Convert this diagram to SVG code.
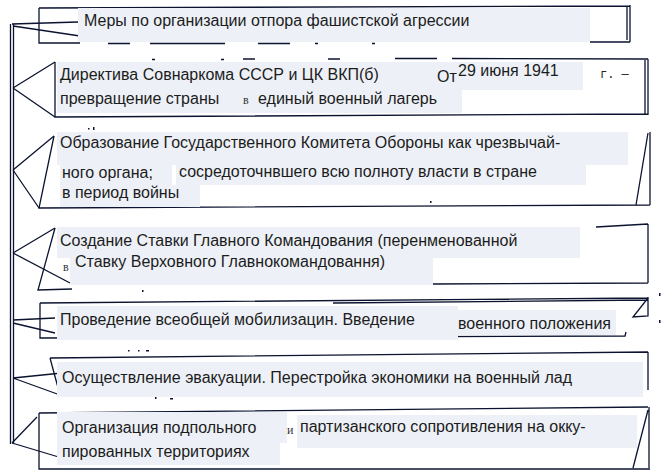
<svg xmlns="http://www.w3.org/2000/svg" width="666" height="475" viewBox="0 0 666 475">
<style>
.ln{stroke:#0b1330;stroke-width:1.3;fill:none}
.bg{fill:#edf1f7}
.t{font-family:"Liberation Sans",Arial,sans-serif;font-size:16px;fill:#1c1c1c}
.g{font-family:"Liberation Serif",serif;font-size:12px;fill:#333}
.m{font-family:"Liberation Mono",monospace;font-size:12px;fill:#222}
.dot{fill:#0b1330}
</style>
<rect width="666" height="475" fill="#fff"/>
<g id="connectors">
<line class="ln" x1="10.5" y1="24" x2="10.5" y2="444"/>
<line class="ln" x1="13.5" y1="24" x2="13.5" y2="444"/>
<path class="ln" d="M12 24 L78 22 M13 26 L80 36"/>
<path class="ln" d="M13 88 L55 62 M13 88 L55 117"/>
<path class="ln" d="M13 170 L54 136 M13 170 L39 208"/>
<path class="ln" d="M13 253 L55 228 M13 253 L70 283"/>
<path class="ln" d="M13 320 L55 318 M13 323 L55 333"/>
<path class="ln" d="M13 378 L62 373 M13 378 L60 395"/>
<path class="ln" d="M12 443 L37 417 M12 443 L62 458"/>
</g>
<g id="node1">
<path class="ln" d="M39 8 L39 43 L80 43 M590 42 L630 42 M39 8 L630 6 M630 5 L630 42 M627 6 L627 40"/>
<path class="ln" d="M108 43.5 L130 43.5 M150 43.5 L225 43.5 M258 43.5 L290 43.5 M315 43.5 L318 43.5 M372 43.5 L375 43.5"/>
<rect class="bg" x="78" y="8" width="512" height="34"/>
<text class="t" x="84" y="26">Меры по организации отпора фашистской агрессии</text>
</g>
<g id="node2">
<path class="ln" d="M55 62 L55 117 L648 114 M395 58.5 L437 58.5 M452 58.5 L648 59 M645 60 L645 114 M648 59 L648 115"/>
<path class="ln" d="M152 59.5 L155 59.5 M221 59.5 L224 59.5 M243 59 L255 59 M328 59 L340 59"/>
<rect class="bg" x="57" y="62" width="526" height="28"/>
<rect class="bg" x="57" y="90" width="405" height="23"/>
<text class="t" x="60" y="80">Директива Совнаркома СССР и ЦК ВКП(б)</text>
<text class="t" x="437" y="82">От</text>
<text class="t" x="458" y="76">29 июня 1941</text>
<text class="m" x="600" y="78">г. —</text>
<text class="t" x="60" y="104">превращение страны</text>
<text class="g" x="243" y="104">в</text>
<text class="t" x="258" y="104">единый военный лагерь</text>
</g>
<g id="node3">
<path class="ln" d="M54 136 L39 208 L650 205 M650 132 L650 205 M648 133 L636 205"/>
<rect class="bg" x="57" y="132" width="571" height="33"/>
<rect class="bg" x="60" y="165" width="112" height="20"/>
<rect class="bg" x="176" y="160" width="410" height="25"/>
<rect class="bg" x="60" y="185" width="140" height="22"/>
<text class="t" x="60" y="148">Образование Государственного Комитета Обороны как чрезвычай-</text>
<text class="t" x="62" y="178">ного органа;</text>
<text class="t" x="179" y="177">сосредоточнвшего всю полноту власти в стране</text>
<text class="t" x="62" y="198">в период войны</text>
<rect class="dot" x="430" y="201" width="1.5" height="2"/>
<rect class="dot" x="88" y="128" width="1.5" height="1.5"/>
<rect class="dot" x="93" y="127" width="1.5" height="3"/>
</g>
<g id="node4">
<path class="ln" d="M55 228 L38 290 L72 289 M433 284 L648 283 M648 224 L648 283 M596 227 L648 224"/>
<rect class="bg" x="57" y="227" width="523" height="31"/>
<rect class="bg" x="70" y="258" width="363" height="27"/>
<text class="t" x="60" y="246">Создание Ставки Главного Командования (перенменованной</text>
<text class="g" x="63" y="271">в</text>
<text class="t" x="75" y="267">Ставку Верховного Главнокомандовання)</text>
<rect class="dot" x="142" y="290" width="1.5" height="2"/>
</g>
<g id="node5">
<path class="ln" d="M40 303 L40 338 L625 336 L626 332 M40 303 L648 298 M333 303 L648 300 M648 297 L648 316 L633 317 L648 298"/>
<rect class="bg" x="57" y="306" width="401" height="34"/>
<rect class="bg" x="455" y="310" width="161" height="25"/>
<text class="t" x="60" y="325">Проведение всеобщей мобилизацин. Введение</text>
<text class="t" x="458" y="329">военного положения</text>
<rect class="dot" x="659" y="293" width="1.5" height="3"/>
<rect class="dot" x="659" y="320" width="1.5" height="3"/>
</g>
<g id="node6">
<path class="ln" d="M50 358 L60 395 M50 358 L648 352 M648 352 L648 390"/>
<rect class="bg" x="57" y="362" width="586" height="35"/>
<text class="t" x="62" y="383">Осуществление эвакуации. Перестройка экономики на военный лад</text>
<rect class="dot" x="128" y="350" width="1.5" height="1.5"/>
<rect class="dot" x="138" y="350" width="1.5" height="1.5"/>
<rect class="dot" x="146" y="350" width="3" height="1.5"/>
<rect class="dot" x="155" y="397" width="1.5" height="2"/>
<rect class="dot" x="170" y="398" width="3" height="1.5"/>
</g>
<g id="node7">
<path class="ln" d="M39 413 L39 469 L650 469 M39 413 L648 407 M649 407 L649 468 M648 410 L633 468"/>
<rect class="bg" x="57" y="412" width="230" height="31"/>
<rect class="bg" x="57" y="443" width="223" height="22"/>
<rect class="bg" x="297" y="415" width="340" height="33"/>
<text class="t" x="62" y="433">Организация подпольного</text>
<text class="g" x="287" y="434">и</text>
<text class="t" x="300" y="432">партизанского сопротивления на окку-</text>
<text class="t" x="62" y="457">пированных территориях</text>
</g>
</svg>
